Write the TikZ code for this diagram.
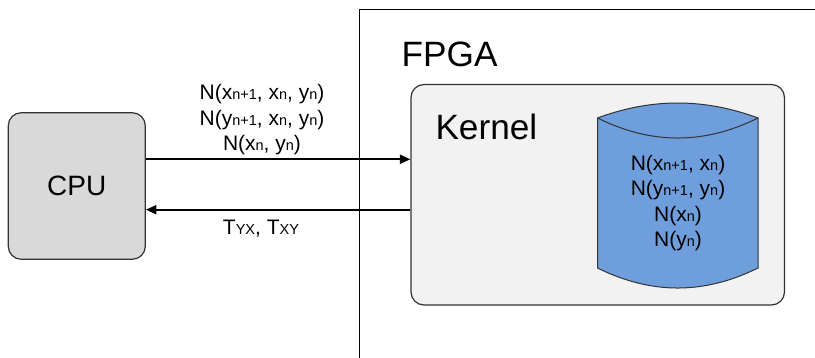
\documentclass[tikz,border=0pt]{standalone}
\usepackage{fontspec}
\setmainfont{Liberation Sans}
\usetikzlibrary{arrows.meta}
\definecolor{cpufill}{HTML}{D9D9D9}
\definecolor{kernfill}{HTML}{F2F2F2}
\definecolor{storefill}{RGB}{110,158,220}
\definecolor{edgecol}{HTML}{333333}
% small lowered-size index text
\newcommand\sbs[1]{{\fontsize{14.5}{14.5}\selectfont #1}}
\begin{document}
\begin{tikzpicture}[x=1pt,y=-1pt,
  box/.style={draw=edgecol, line width=1.2pt, rounded corners=13pt, inner sep=0pt},
  lbl/.style={font=\fontsize{21}{21}\selectfont, anchor=base, inner sep=0pt},
  title/.style={font=\fontsize{35.2}{35.2}\selectfont, anchor=base west, inner sep=0pt},
  link/.style={line width=2pt, -{Triangle[length=10.5pt, width=9pt]}}]
\useasboundingbox (0,0) rectangle (815,358);

% FPGA frame (continues past the right and bottom edges)
\draw[line width=1pt] (359.3,358) -- (359.3,9.3) -- (815,9.3);
\node[title] (fpga) at (401.5,67) {FPGA};

% host and kernel boxes
\node[box, fill=cpufill, minimum width=137pt, minimum height=146.6pt]
  (cpu) at (76.8,186) {\fontsize{28}{28}\selectfont CPU};
\node[box, fill=kernfill, minimum width=373.5pt, minimum height=220.5pt]
  (kernel) at (597.75,194.75) {};
\node[title] (kname) at (435.3,140) {Kernel};

% on-chip storage drum
\coordinate (store) at (677.75,195);
\filldraw[fill=storefill, draw=edgecol, line width=1pt]
  (597.5,118) .. controls (651.5,98) and (704,98) .. (758,118)
  -- (758,268) .. controls (704,294.7) and (651.5,294.7) .. (597.5,268) -- cycle;
\draw[edgecol, line width=1pt]
  (597.5,118) .. controls (651.5,144.7) and (704,144.7) .. (758,118);
\node[lbl] (s1) at (678,170.7) {N(x\sbs{n+1}, x\sbs{n})};
\node[lbl] (s2) at (678,196) {N(y\sbs{n+1}, y\sbs{n})};
\node[lbl] (s3) at (678,221.5) {N(x\sbs{n})};
\node[lbl] (s4) at (678,247) {N(y\sbs{n})};

% transfers between host and kernel
\coordinate (up) at (0,159.3);
\coordinate (down) at (0,209.7);
\draw[link] (cpu.east |- up) -- (kernel.west |- up);
\draw[link] (kernel.west |- down) -- (cpu.east |- down);

\node[lbl] (t1) at (262,100) {N(x\sbs{n+1}, x\sbs{n}, y\sbs{n})};
\node[lbl] (t2) at (262,125.5) {N(y\sbs{n+1}, x\sbs{n}, y\sbs{n})};
\node[lbl] (t3) at (262,151) {N(x\sbs{n}, y\sbs{n})};
\node[lbl] (t4) at (261,234.3) {T\sbs{YX}, T\sbs{XY}};
\end{tikzpicture}
\end{document}
